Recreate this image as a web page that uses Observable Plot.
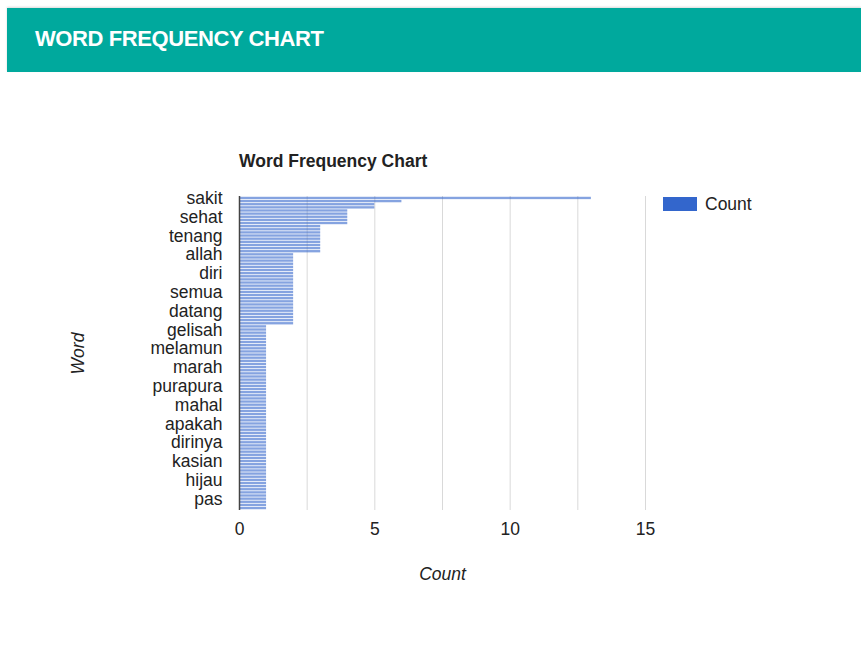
<!DOCTYPE html>
<html>
<head>
<meta charset="utf-8">
<script src="https://cdn.jsdelivr.net/npm/d3@7"></script>
<script src="https://cdn.jsdelivr.net/npm/@observablehq/plot@0.6"></script>
<style>
  html, body { margin: 0; padding: 0; background: #fff; width: 861px; height: 666px; overflow: hidden; }
  #header { position: absolute; left: 7px; top: 8px; right: 0; height: 64px; background: #00a99d;
            box-shadow: 0 -1px 2px rgba(0,0,0,0.15); z-index: 2; }
  #header span { position: absolute; left: 28px; top: 0; line-height: 62px; color: #fff; letter-spacing: -0.4px;
                 font-family: "Liberation Sans", Arial, sans-serif; font-weight: bold; font-size: 22px; }
  #chart { position: absolute; left: 0; top: 0; }
  .abs { position: absolute; font-family: "Liberation Sans", Arial, sans-serif; color: #222; z-index: 3; }
</style>
</head>
<body>
<div id="header"><span>WORD FREQUENCY CHART</span></div>
<div id="chart"></div>
<div class="abs" style="left:239px; top:151px; font-size:17.5px; line-height:20px; font-weight:bold;">Word Frequency Chart</div>
<div class="abs" style="left:663px; top:197px; width:34px; height:14px; background:#3366cc;"></div>
<div class="abs" style="left:705px; top:194px; font-size:17.5px; line-height:20px;">Count</div>
<script>
const words = ["sakit","aku","hati","jiwa","hidup","kau","sehat","rasa","hari","cinta",
  "tubuh","obat","tenang","pikiran","sedih","senang","badan","lelah","allah","doa",
  "mati","takut","sabar","dunia","diri","malam","pagi","hilang","tidur","mimpi",
  "semua","orang","waktu","nanti","selalu","kini","datang","pergi","rindu","air",
  "mata","luka","gelisah","bahagia","resah","susah","diam","sepi","melamun","lupa",
  "ingat","dokter","rumah","jalan","marah","tertawa","menangis","harap","sendiri","bersama",
  "purapura","kuat","lemah","hangat","dingin","murah","mahal","uang","kerja","pulang",
  "jauh","dekat","apakah","mengapa","bagaimana","siapa","dimana","kapan","dirinya","dirimu",
  "diriku","kasih","sayang","peduli","kasian","teman","sahabat","keluarga","merah","biru",
  "hijau","kuning","putih","hitam","tepat","cocok","pas","baru","lama","akhir"];
const counts = [13,6,5,5,4,4,4,4,4,3,
  3,3,3,3,3,3,3,3,2,2,
  2,2,2,2,2,2,2,2,2,2,
  2,2,2,2,2,2,2,2,2,2,
  2,1,1,1,1,1,1,1,1,1,
  1,1,1,1,1,1,1,1,1,1,
  1,1,1,1,1,1,1,1,1,1,
  1,1,1,1,1,1,1,1,1,1,
  1,1,1,1,1,1,1,1,1,1,
  1,1,1,1,1,1,1,1,1,1];
const shownLabels = ["sakit","sehat","tenang","allah","diri","semua","datang","gelisah","melamun",
  "marah","purapura","mahal","apakah","dirinya","kasian","hijau","pas"];
const xTicks = [0, 5, 10, 15];
const gridValues = [2.5, 5, 7.5, 10, 12.5, 15];

const data = words.map((w, i) => ({word: w, count: counts[i]}));

const chart = Plot.plot({
  width: 861,
  height: 666,
  marginTop: 196,
  marginBottom: 156,
  marginLeft: 239,
  marginRight: 216,
  style: {fontFamily: "'Liberation Sans', Arial, sans-serif", fontSize: "17.5px", color: "#222", background: "transparent"},
  x: {domain: [0, 15]},
  y: {domain: words, padding: 0.25, round: false},
  marks: [
    Plot.gridX(gridValues, {stroke: "#d9d9d9", strokeOpacity: 1}),
    Plot.barX(data, {x: "count", y: "word", fill: "#3366cc", fillOpacity: 0.6}),
    Plot.ruleX([0], {stroke: "#444", strokeWidth: 1.5}),
    Plot.axisX({ticks: xTicks, tickSize: 0, tickPadding: 12, label: null, fill: "#222"}),
    Plot.axisY({ticks: shownLabels, tickSize: 0, tickPadding: 17, label: null, fill: "#222"}),
    Plot.text(["Count"], {text: d => d, frameAnchor: "bottom", dy: 69, fontStyle: "italic", fill: "#222"}),
    Plot.text(["Word"], {text: d => d, frameAnchor: "left", textAnchor: "middle", dx: -161, rotate: -90, fontStyle: "italic", fill: "#222"})
  ]
});
document.getElementById("chart").appendChild(chart);
</script>
</body>
</html>
